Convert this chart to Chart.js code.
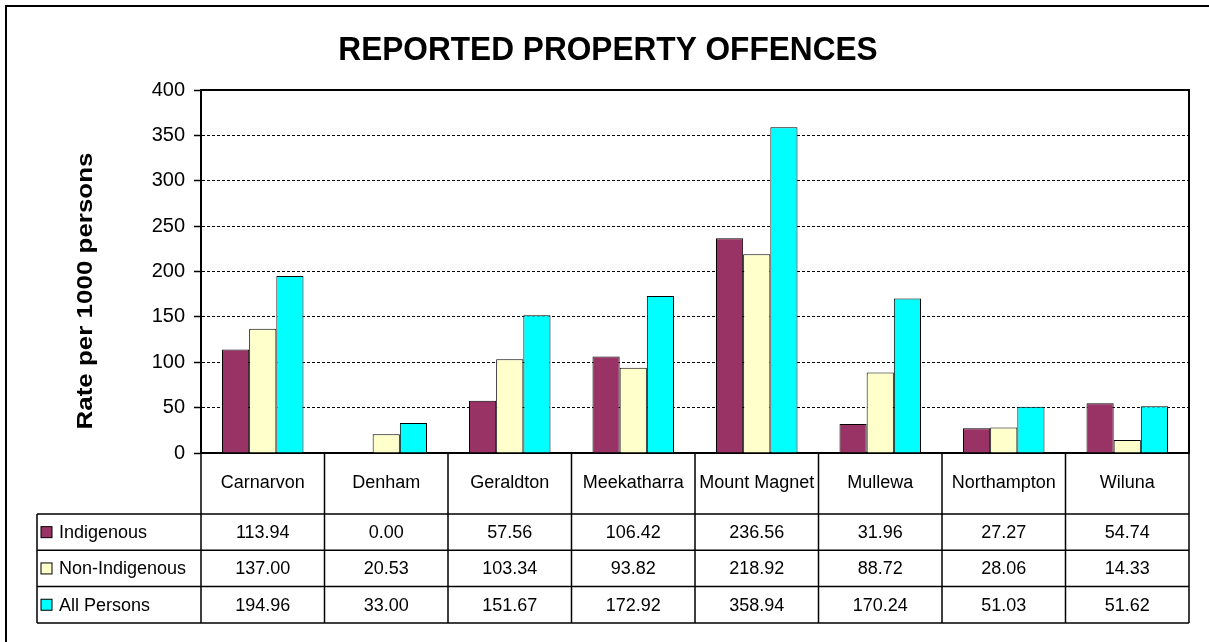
<!DOCTYPE html>
<html>
<head>
<meta charset="utf-8">
<script src="https://cdn.jsdelivr.net/npm/chart.js@4"></script>
<style>
  body { margin: 0; background: #fff; }
  canvas { display: block; }
</style>
</head>
<body>
<canvas id="offenceChart" width="1209" height="642"></canvas>
<script>
// data
const towns = ['Carnarvon', 'Denham', 'Geraldton', 'Meekatharra', 'Mount Magnet', 'Mullewa', 'Northampton', 'Wiluna']
const indigenous = [113.94, 0.00, 57.56, 106.42, 236.56, 31.96, 27.27, 54.74]
const nonIndigenous = [137.00, 20.53, 103.34, 93.82, 218.92, 88.72, 28.06, 14.33]
const allPersons = [194.96, 33.00, 151.67, 172.92, 358.94, 170.24, 51.03, 51.62]
const seriesNames = ['Indigenous', 'Non-Indigenous', 'All Persons']
const seriesColors = ['#993366', '#FFFFCC', '#00FFFF']
const yTicks = [0, 50, 100, 150, 200, 250, 300, 350, 400]

const chartTitle = 'REPORTED PROPERTY OFFENCES'
const yTitle = 'Rate per 1000 persons'
const fontFam = '"Liberation Sans", Arial, sans-serif'

// draws the frame, titles and the data table under the plot
const tablePlugin = {
  id: 'dataTable',
  afterDraw(chart) {
    const ctx = chart.ctx
    const area = chart.chartArea
    const xs = chart.scales.x
    const left = area.left, right = area.right, bottom = area.bottom
    const tableLeft = 37
    const headerBottom = 514
    const rowH = 36.3

    ctx.save()
    ctx.strokeStyle = '#000'

    // outer frame (right and bottom fall off the picture)
    ctx.lineWidth = 2
    ctx.strokeRect(6, 6, 1230, 660)

    // plot top + right border
    ctx.beginPath()
    ctx.moveTo(left, area.top)
    ctx.lineTo(right, area.top)
    ctx.lineTo(right, bottom)
    ctx.stroke()

    // title, a bit narrow like the original
    ctx.fillStyle = '#000'
    ctx.textAlign = 'center'
    ctx.textBaseline = 'middle'
    ctx.save()
    ctx.translate(608, 51)
    ctx.scale(0.93, 1)
    ctx.font = 'bold 34px ' + fontFam
    ctx.fillText(chartTitle, 0, 0)
    ctx.restore()

    // y axis title
    ctx.save()
    ctx.translate(86, 291)
    ctx.rotate(-Math.PI / 2)
    ctx.scale(1.18, 1)
    ctx.font = 'bold 22px ' + fontFam
    ctx.fillText(yTitle, 0, 0)
    ctx.restore()

    // table grid
    ctx.lineWidth = 1.5
    const lastRow = headerBottom + rowH * 3
    ctx.beginPath()
    for (let r = 0; r <= 3; r++) {
      const y = headerBottom + rowH * r
      ctx.moveTo(tableLeft, y)
      ctx.lineTo(right, y)
    }
    ctx.moveTo(tableLeft, headerBottom)
    ctx.lineTo(tableLeft, lastRow)
    const colW = (right - left) / towns.length
    for (let i = 0; i <= towns.length; i++) {
      const x = left + colW * i
      ctx.moveTo(x, bottom)
      ctx.lineTo(x, lastRow)
    }
    ctx.stroke()

    // header labels
    ctx.font = '18px ' + fontFam
    ctx.textAlign = 'center'
    towns.forEach((t, i) => {
      ctx.fillText(t, xs.getPixelForValue(i), (bottom + headerBottom) / 2)
    })

    // rows
    const rows = [indigenous, nonIndigenous, allPersons]
    rows.forEach((vals, r) => {
      const cy = headerBottom + rowH * r + rowH / 2
      ctx.fillStyle = seriesColors[r]
      ctx.fillRect(41, cy - 5.5, 11, 11)
      ctx.lineWidth = 1
      ctx.strokeRect(41, cy - 5.5, 11, 11)
      ctx.fillStyle = '#000'
      ctx.textAlign = 'left'
      ctx.fillText(seriesNames[r], 59, cy + 1)
      ctx.textAlign = 'center'
      vals.forEach((v, i) => {
        ctx.fillText(v.toFixed(2), xs.getPixelForValue(i), cy + 1)
      })
    })
    ctx.restore()
  }
}

const ctx = document.getElementById('offenceChart').getContext('2d')
const myChart = new Chart(ctx, {
  type: 'bar',
  data: {
    labels: towns,
    datasets: [indigenous, nonIndigenous, allPersons].map((d, i) => ({
      label: seriesNames[i],
      data: d,
      backgroundColor: seriesColors[i],
      borderColor: '#000',
      borderWidth: 1,
      categoryPercentage: 0.66,
      barPercentage: 1.0
    }))
  },
  options: {
    responsive: false,
    animation: false,
    devicePixelRatio: 1,
    layout: { padding: { top: 90, right: 20, bottom: 189, left: 0 } },
    plugins: {
      legend: { display: false },
      title: { display: false },
      tooltip: { enabled: false }
    },
    scales: {
      x: {
        ticks: { display: false },
        grid: { display: false },
        border: { display: true, color: '#000', width: 2 },
        afterFit: a => { a.height = 0 }
      },
      y: {
        min: 0,
        max: 400,
        afterBuildTicks: a => { a.ticks = yTicks.map(v => ({ value: v })) },
        ticks: { color: '#000', font: { family: fontFam, size: 20 }, padding: 9 },
        grid: { color: '#000', lineWidth: 1, tickLength: 7, tickColor: '#000', tickWidth: 1.5 },
        border: { display: true, color: '#000', width: 2, dash: [3, 2] },
        afterFit: a => { a.width = 201 }
      }
    }
  },
  plugins: [tablePlugin]
})
</script>
</body>
</html>
